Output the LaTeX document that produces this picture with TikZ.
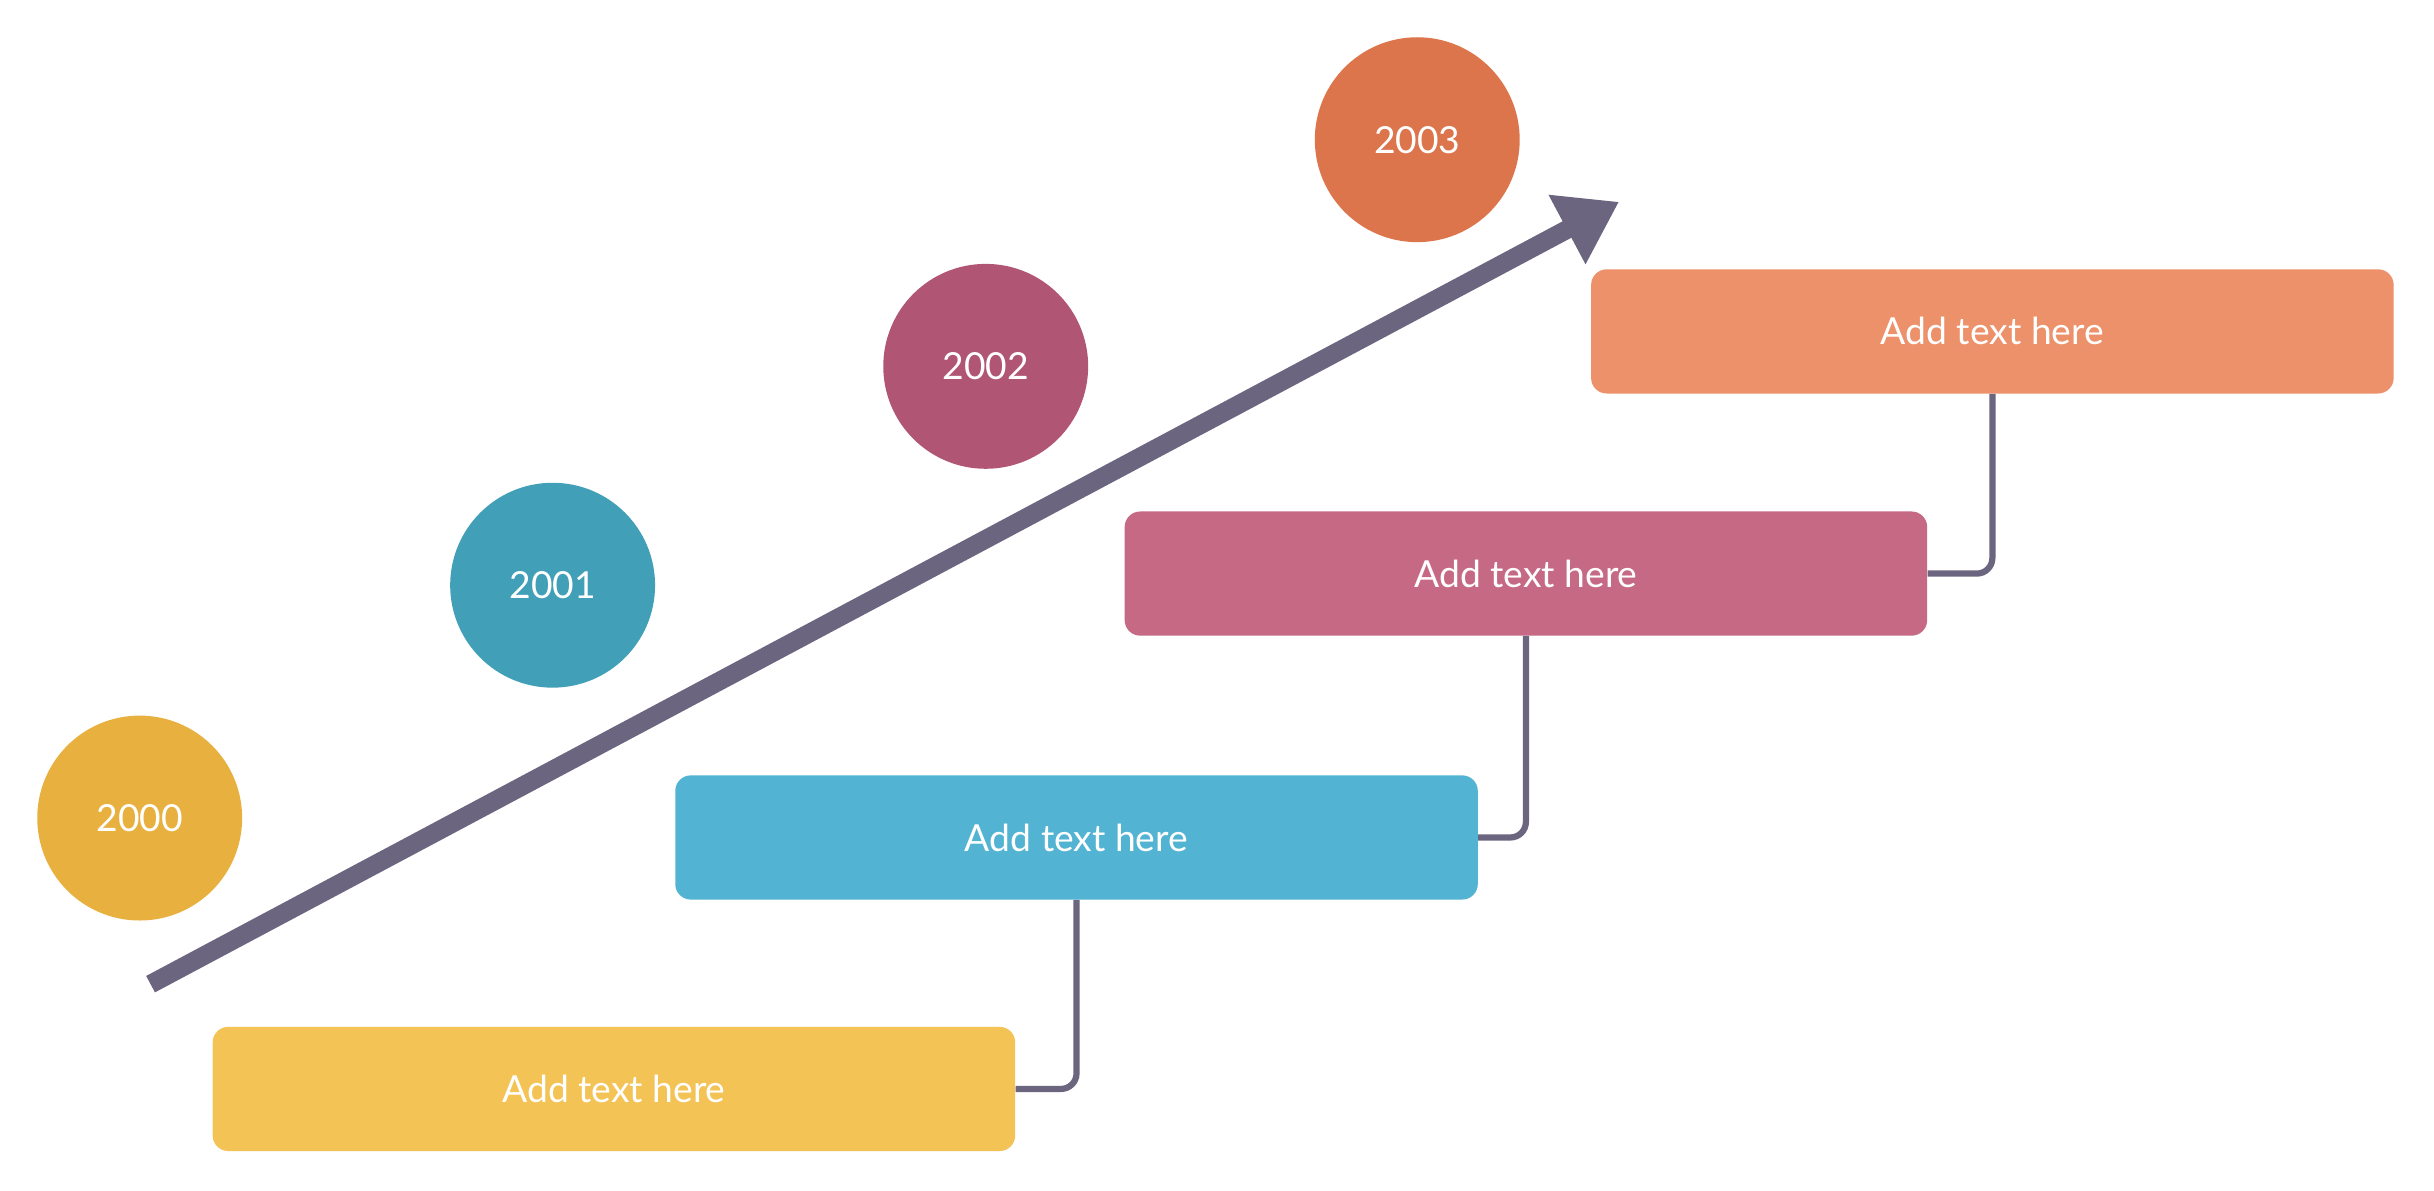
\documentclass[tikz,border=0pt]{standalone}
\usepackage{fontspec}
\setmainfont{Lato}
\usepackage{xcolor}
\usetikzlibrary{arrows.meta,positioning}
\definecolor{linegray}{HTML}{6B6580}
\definecolor{yearA}{HTML}{E8B03E}
\definecolor{yearB}{HTML}{41A0B8}
\definecolor{yearC}{HTML}{B05574}
\definecolor{yearD}{HTML}{DC754C}
\definecolor{boxA}{HTML}{F3C355}
\definecolor{boxB}{HTML}{52B3D3}
\definecolor{boxC}{HTML}{C56985}
\definecolor{boxD}{HTML}{EC9169}
\tikzset{
  year/.style={circle, minimum size=132pt, inner sep=0pt, text=white, font=\fontsize{24}{28}\selectfont},
  milestone/.style={rounded corners=10pt, minimum width=517pt, minimum height=80pt, text=white, font=\fontsize{24}{28}\selectfont},
  link/.style={linegray, line width=4pt, rounded corners=10pt}
}
\begin{document}
\begin{tikzpicture}[x=1pt,y=-1pt]
  \useasboundingbox (0,0) rectangle (1568,767);
  % years
  \node[year, fill=yearA] (y0) at (90,527) {2000};
  \node[year, fill=yearB] (y1) at (356,377) {2001};
  \node[year, fill=yearC] (y2) at (635,236) {2002};
  \node[year, fill=yearD] (y3) at (913,90) {2003};

  % growth arrow
  \coordinate (tail) at (97,634);
  \coordinate (head) at (1043,130);
  \draw[linegray, line width=12pt, -{Triangle[length=38pt,width=48pt]}] (tail) -- (head);

  % text boxes
  \node[milestone, fill=boxA] (b0) at (395.5,701.5) {Add text here};
  \node[milestone, fill=boxB] (b1) at (693.5,539.5) {Add text here};
  \node[milestone, fill=boxC] (b2) at (983,369.5) {Add text here};
  \node[milestone, fill=boxD] (b3) at (1283.5,213.5) {Add text here};

  % connectors
  \draw[link] (b0.east) -| (b1.south);
  \draw[link] (b1.east) -| (b2.south);
  \draw[link] (b2.east) -| (b3.south);
\end{tikzpicture}
\end{document}
